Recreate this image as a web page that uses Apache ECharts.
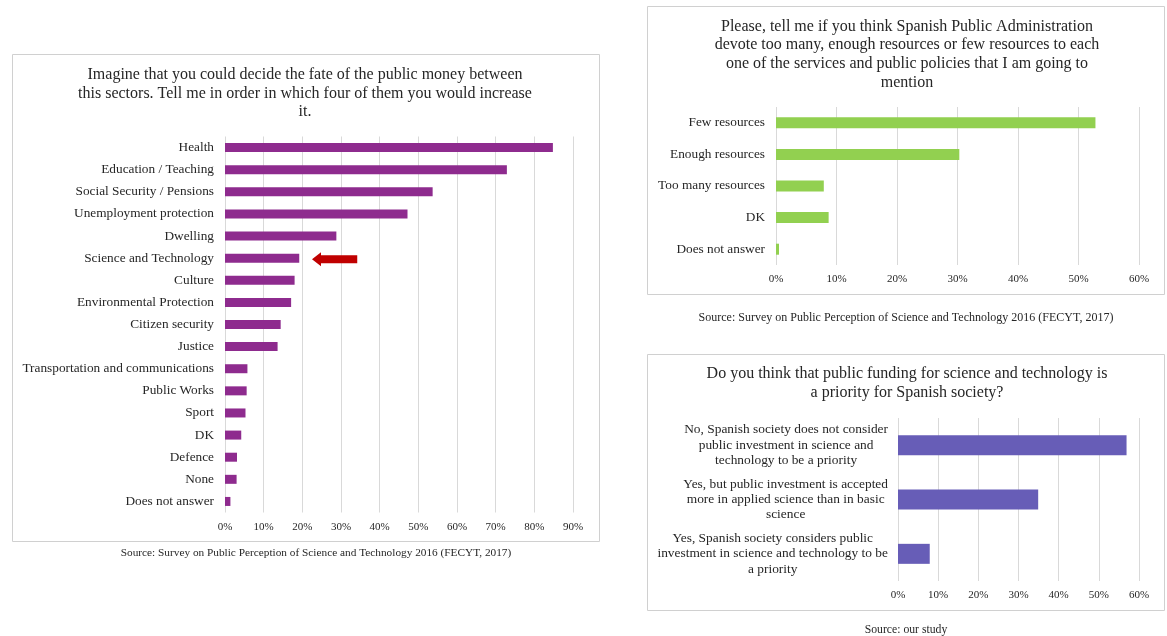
<!DOCTYPE html>
<html>
<head>
<meta charset="utf-8">
<script src="https://cdn.jsdelivr.net/npm/echarts@6/dist/echarts.min.js"></script>
<style>
html,body{margin:0;padding:0;background:#fff;}
#main{width:1167px;height:636px;}
</style>
</head>
<body>
<div id="main"></div>
<script>
// ---- Data ----
const sectors = ['Health','Education / Teaching','Social Security / Pensions','Unemployment protection','Dwelling','Science and Technology','Culture','Environmental Protection','Citizen security','Justice','Transportation and communications','Public Works','Sport','DK','Defence','None','Does not answer'];
const sectorShare = [84.8, 72.9, 53.7, 47.2, 28.8, 19.2, 18.0, 17.1, 14.4, 13.6, 5.8, 5.6, 5.3, 4.2, 3.1, 3.0, 1.4];
const arrowSpan = [[22.5, 34.2, 'Science and Technology']];

const resourceCats = ['Few resources','Enough resources','Too many resources','DK','Does not answer'];
const resourceShare = [52.8, 30.3, 7.9, 8.7, 0.5];

const priorityCats = [
  'No, Spanish society does not consider\npublic investment in science and\ntechnology to be a priority',
  'Yes, but public investment is accepted\nmore in applied science than in basic\nscience',
  'Yes, Spanish society considers public\ninvestment in science and technology to be\na priority'
];
const priorityShare = [56.9, 34.9, 7.9];

const leftAxis = {min: 0, max: 90, interval: 10};
const rightAxis = {min: 0, max: 60, interval: 10};

const titles = [
  'Imagine that you could decide the fate of the public money between\nthis sectors. Tell me in order in which four of them you would increase\nit.',
  'Please, tell me if you think Spanish Public Administration\ndevote too many, enough resources or few resources to each\none of the services and public policies that I am going to\nmention',
  'Do you think that public funding for science and technology is\na priority for Spanish society?'
];
const sources = [
  'Source: Survey on Public Perception of Science and Technology 2016 (FECYT, 2017)',
  'Source: Survey on Public Perception of Science and Technology 2016 (FECYT, 2017)',
  'Source: our study'
];

// ---- Style ----
const FONT = '"Liberation Serif", "Times New Roman", serif';
const TXT = '#262626';
const GRID = '#d9d9d9';

function valueAxis(gridIndex, ax) {
  return {
    type: 'value', gridIndex, min: ax.min, max: ax.max, interval: ax.interval,
    axisLine: {show: false}, axisTick: {show: false},
    splitLine: {show: true, lineStyle: {color: GRID, width: 1}},
    axisLabel: {formatter: '{value}%', fontFamily: FONT, fontSize: 11, color: TXT, margin: 9}
  };
}
function catAxis(gridIndex, cats, extra) {
  return Object.assign({
    type: 'category', gridIndex, data: cats, inverse: true,
    axisLine: {show: false}, axisTick: {show: false}, splitLine: {show: false},
    axisLabel: {fontFamily: FONT, fontSize: 13.3, color: TXT, margin: 11}
  }, extra || {});
}

const chart = echarts.init(document.getElementById('main'), null, {renderer: 'canvas'});

const titleStyle = {fontFamily: FONT, fontSize: 16, fontWeight: 'normal', color: TXT, lineHeight: 18.7};

const option = {
  animation: false,
  backgroundColor: '#ffffff',
  title: [
    {text: titles[0], left: 305, top: 65.5, textAlign: 'center', padding: 0, textStyle: titleStyle},
    {text: titles[1], left: 907, top: 17, textAlign: 'center', padding: 0, textStyle: titleStyle},
    {text: titles[2], left: 907, top: 364.5, textAlign: 'center', padding: 0, textStyle: titleStyle},
    {text: sources[0], left: 316, top: 548, textAlign: 'center', padding: 0,
      textStyle: {fontFamily: FONT, fontSize: 11.3, fontWeight: 'normal', color: TXT}},
    {text: sources[1], left: 906, top: 312, textAlign: 'center', padding: 0,
      textStyle: {fontFamily: FONT, fontSize: 12, fontWeight: 'normal', color: TXT}},
    {text: sources[2], left: 906, top: 624, textAlign: 'center', padding: 0,
      textStyle: {fontFamily: FONT, fontSize: 11.7, fontWeight: 'normal', color: TXT}}
  ],
  graphic: [
    {type: 'rect', shape: {x: 12.5, y: 54.5, width: 587, height: 487}, style: {fill: 'none', stroke: '#d0d0d0', lineWidth: 1}, silent: true, z: -1},
    {type: 'rect', shape: {x: 647.5, y: 6.5, width: 517, height: 288}, style: {fill: 'none', stroke: '#d0d0d0', lineWidth: 1}, silent: true, z: -1},
    {type: 'rect', shape: {x: 647.5, y: 354.5, width: 517, height: 256}, style: {fill: 'none', stroke: '#d0d0d0', lineWidth: 1}, silent: true, z: -1}
  ],
  grid: [
    {left: 225, top: 136.5, width: 348, height: 376, containLabel: false},
    {left: 776, top: 107, width: 363, height: 158, containLabel: false},
    {left: 898, top: 418, width: 241, height: 163, containLabel: false}
  ],
  xAxis: [valueAxis(0, leftAxis), valueAxis(1, rightAxis), valueAxis(2, rightAxis)],
  yAxis: [
    catAxis(0, sectors),
    catAxis(1, resourceCats),
    catAxis(2, priorityCats, {
      axisLabel: {
        fontFamily: FONT, fontSize: 13.4, color: TXT, margin: 10, lineHeight: 15.3,
        formatter: function (v) { return v.split('\n').map(function (l) { return '{c|' + l + '}'; }).join('\n'); },
        rich: {c: {align: 'center', fontFamily: FONT, fontSize: 13.4, color: TXT, lineHeight: 15.3}}
      }
    })
  ],
  series: [
    {type: 'bar', xAxisIndex: 0, yAxisIndex: 0, data: sectorShare, barWidth: 9,
      itemStyle: {color: '#8E2B8E'}, silent: true},
    {type: 'custom', xAxisIndex: 0, yAxisIndex: 0, data: arrowSpan, silent: true,
      renderItem: function (params, api) {
        const tip = api.coord([api.value(0), api.value(2)]);
        const tail = api.coord([api.value(1), api.value(2)]);
        const y = tip[1] + 1;
        const headLen = 9, headHalf = 7, bodyHalf = 4;
        return {
          type: 'polygon',
          shape: {points: [
            [tip[0], y], [tip[0] + headLen, y - headHalf], [tip[0] + headLen, y - bodyHalf],
            [tail[0], y - bodyHalf], [tail[0], y + bodyHalf], [tip[0] + headLen, y + bodyHalf],
            [tip[0] + headLen, y + headHalf]
          ]},
          style: {fill: '#C00000'}
        };
      },
      encode: {x: [0, 1], y: 2}
    },
    {type: 'bar', xAxisIndex: 1, yAxisIndex: 1, data: resourceShare, barWidth: 11,
      itemStyle: {color: '#92D050'}, silent: true},
    {type: 'bar', xAxisIndex: 2, yAxisIndex: 2, data: priorityShare, barWidth: 20,
      itemStyle: {color: '#675DB7'}, silent: true}
  ]
};
chart.setOption(option);
</script>
</body>
</html>
